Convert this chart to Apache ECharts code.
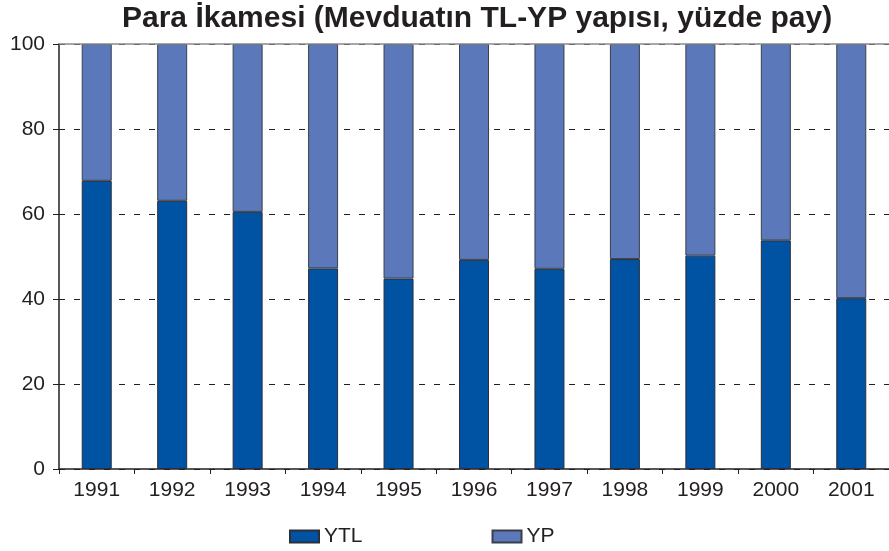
<!DOCTYPE html>
<html>
<head>
<meta charset="utf-8">
<script src="https://cdn.jsdelivr.net/npm/echarts@6/dist/echarts.min.js"></script>
<style>
  html, body { margin: 0; padding: 0; background: #fff; }
  #chart { width: 889px; height: 551px; }
</style>
</head>
<body>
<div id="chart"></div>
<script>
const years = ['1991', '1992', '1993', '1994', '1995', '1996', '1997', '1998', '1999', '2000', '2001'];
const ytl = [67.8, 63.1, 60.5, 47.2, 44.8, 49.2, 47.1, 49.4, 50.2, 53.8, 40.2];
const yp = ytl.map(v => +(100 - v).toFixed(1));
const yTicks = [0, 20, 40, 60, 80, 100];

const font = 'Liberation Sans, Arial, sans-serif';
const chart = echarts.init(document.getElementById('chart'));

chart.setOption({
  animation: false,
  title: {
    text: 'Para İkamesi (Mevduatın TL-YP yapısı, yüzde pay)',
    left: 117,
    top: -1,
    textStyle: { fontFamily: font, fontSize: 30, fontWeight: 'bold', color: '#231f20' }
  },
  legend: {
    left: 284,
    top: 521,
    icon: 'rect',
    itemWidth: 29,
    itemHeight: 12,
    itemGap: 129,
    textStyle: { fontFamily: font, fontSize: 21, color: '#231f20' },
    data: ['YTL', 'YP']
  },
  grid: { left: 59, top: 44, bottom: 82, width: 836 },
  xAxis: {
    type: 'category',
    data: years,
    axisLine: { lineStyle: { color: '#231f20', width: 1.5 } },
    axisTick: { show: true, length: 5, lineStyle: { color: '#231f20' } },
    axisLabel: { fontFamily: font, fontSize: 21, color: '#231f20', margin: 11 }
  },
  yAxis: {
    type: 'value',
    min: 0,
    max: 100,
    interval: 20,
    axisLine: { show: true, lineStyle: { color: '#231f20', width: 1.5 } },
    axisTick: { show: true, length: 6, lineStyle: { color: '#231f20' } },
    axisLabel: {
      fontFamily: font, fontSize: 21, color: '#231f20', margin: 14,
      formatter: v => yTicks.includes(v) ? String(v) : ''
    },
    splitLine: {
      show: true,
      lineStyle: { color: '#231f20', type: [6, 9], width: 1 }
    }
  },
  series: [
    {
      name: 'YTL',
      type: 'bar',
      stack: 'total',
      barWidth: 30,
      data: ytl,
      itemStyle: { color: '#0052a2', borderColor: '#2b2f3a', borderWidth: 1 }
    },
    {
      name: 'YP',
      type: 'bar',
      stack: 'total',
      barWidth: 30,
      data: yp,
      itemStyle: { color: '#5a78ba', borderColor: '#3a3f4a', borderWidth: 1 },
      markLine: {
        silent: true,
        symbol: 'none',
        label: { show: false },
        lineStyle: { color: '#8a8a8a', type: 'solid', width: 1.5 },
        data: [{ yAxis: 100 }]
      }
    }
  ]
});
</script>
</body>
</html>
